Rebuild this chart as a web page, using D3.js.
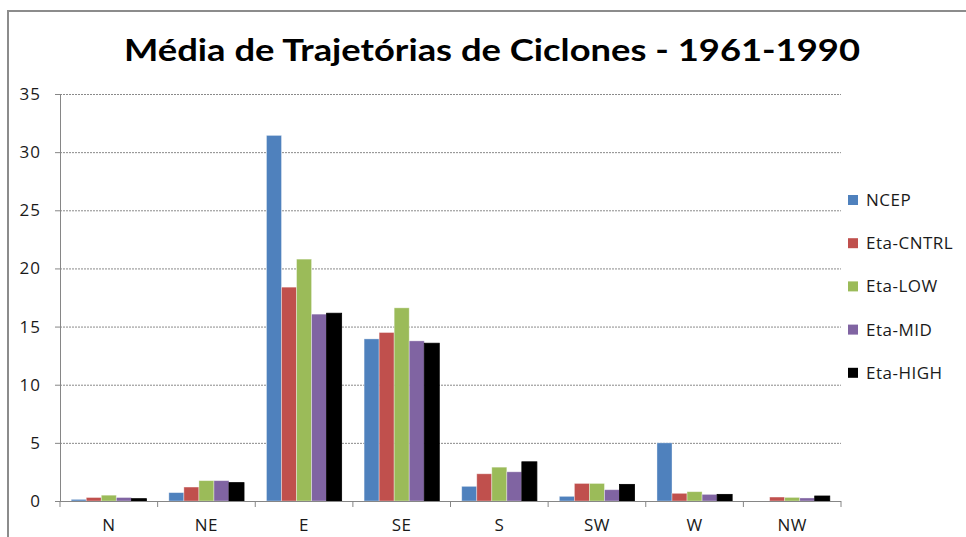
<!DOCTYPE html>
<html>
<head>
<meta charset="utf-8">
<script src="https://cdn.jsdelivr.net/npm/d3@7"></script>
<style>
  body { margin: 0; background: #fff; }
  text { font-family: "Open Sans", "DejaVu Sans", sans-serif; }
</style>
</head>
<body>
<div id="chart"></div>
<script>
// Chart data
const directions = ["N", "NE", "E", "SE", "S", "SW", "W", "NW"];
const seriesNames = ["NCEP", "Eta-CNTRL", "Eta-LOW", "Eta-MID", "Eta-HIGH"];
const ncep     = [0.14, 0.72, 31.44, 13.94, 1.26, 0.40, 5.00, 0.00];
const etaCntrl = [0.30, 1.20, 18.39, 14.49, 2.34, 1.51, 0.66, 0.34];
const etaLow   = [0.50, 1.75, 20.80, 16.61, 2.91, 1.51, 0.80, 0.31];
const etaMid   = [0.30, 1.75, 16.07, 13.77, 2.51, 0.97, 0.57, 0.26];
const etaHigh  = [0.20, 1.58, 16.15, 13.57, 3.37, 1.43, 0.57, 0.43];
const yTicks = [0, 5, 10, 15, 20, 25, 30, 35];
const seriesColors = ["#4F81BD", "#C0504D", "#9BBB59", "#8064A2", "#000000"];

const seriesValues = [ncep, etaCntrl, etaLow, etaMid, etaHigh];
const rows = directions.map((dir, i) => ({
    dir: dir,
    values: seriesNames.map((name, s) => ({ name: name, value: seriesValues[s][i] }))
}));

const W = 966, H = 537;
const margin = { top: 94, right: 125, bottom: 36, left: 60 };
const width = W - margin.left - margin.right;
const height = H - margin.top - margin.bottom;

const svg = d3.select("#chart").append("svg")
    .attr("width", W)
    .attr("height", H);

// outer chart frame (cropped on right and bottom)
svg.append("path")
    .attr("d", `M8,${H + 5} L8,11 L${W + 5},11`)
    .attr("fill", "none")
    .attr("stroke", "#8c8c8c")
    .attr("stroke-width", 2);

// title
svg.append("text")
    .attr("x", 492)
    .attr("y", 61)
    .attr("text-anchor", "middle")
    .attr("font-size", 31)
    .attr("font-weight", "bold")
    .attr("fill", "#000")
    .attr("textLength", 736)
    .attr("lengthAdjust", "spacingAndGlyphs")
    .style("font-family", "Lato, 'Open Sans', sans-serif")
    .text("Média de Trajetórias de Ciclones - 1961-1990");

const g = svg.append("g")
    .attr("transform", `translate(${margin.left},${margin.top})`);

const x0 = d3.scaleBand()
    .domain(directions)
    .range([0, width])
    .padding(0);

const gap = x0.bandwidth() * 0.115;
const x1 = d3.scaleBand()
    .domain(seriesNames)
    .range([gap, x0.bandwidth() - gap])
    .padding(0);

const y = d3.scaleLinear()
    .domain([0, 35])
    .range([height, 0]);

const color = d3.scaleOrdinal()
    .domain(seriesNames)
    .range(seriesColors);

// gridlines
g.append("g")
    .selectAll("line")
    .data(yTicks.filter(t => t > 0))
    .enter()
    .append("line")
    .attr("x1", 0)
    .attr("x2", width)
    .attr("y1", d => y(d) + 0.5)
    .attr("y2", d => y(d) + 0.5)
    .attr("stroke", "#8a8a8a")
    .attr("stroke-width", 1)
    .attr("stroke-dasharray", "2,1");

// bars
g.selectAll(".group")
    .data(rows)
    .enter()
    .append("g")
    .attr("class", "group")
    .attr("transform", d => `translate(${x0(d.dir)},0)`)
    .selectAll("rect")
    .data(d => d.values)
    .enter()
    .append("rect")
    .attr("x", d => x1(d.name))
    .attr("y", d => y(d.value))
    .attr("width", x1.bandwidth())
    .attr("height", d => y(0) - y(d.value))
    .attr("fill", d => color(d.name))
    .attr("stroke", d => d.name === "Eta-HIGH" ? "#000" : "rgba(255,255,255,0.45)")
    .attr("stroke-width", 0.8);

// y axis
const yAxis = g.append("g")
    .call(d3.axisLeft(y).tickValues(yTicks).tickSize(5).tickPadding(14));
yAxis.select(".domain").attr("stroke", "#868686");
yAxis.selectAll(".tick line").attr("stroke", "#868686");
yAxis.selectAll(".tick text")
    .attr("font-size", 17)
    .attr("letter-spacing", 1)
    .attr("fill", "#1a1a1a");

// x axis
const xAxis = g.append("g")
    .attr("transform", `translate(0,${height})`)
    .call(d3.axisBottom(x0).tickSize(0).tickPadding(18));
xAxis.select(".domain").attr("stroke", "#868686").attr("d", `M0,0.5H${width}`);
xAxis.selectAll(".tick text")
    .attr("font-size", 17)
    .attr("letter-spacing", 0.5)
    .attr("fill", "#1a1a1a");

// category separator ticks
xAxis.append("g")
    .selectAll("line")
    .data(directions.concat(["end"]))
    .enter()
    .append("line")
    .attr("x1", (d, i) => i * x0.bandwidth())
    .attr("x2", (d, i) => i * x0.bandwidth())
    .attr("y1", 0)
    .attr("y2", 6)
    .attr("stroke", "#868686");

// legend
const legend = svg.append("g")
    .attr("transform", "translate(848,200)");

const items = legend.selectAll("g")
    .data(seriesNames)
    .enter()
    .append("g")
    .attr("transform", (d, i) => `translate(0,${i * 43.2})`);

items.append("rect")
    .attr("x", 0)
    .attr("y", -5)
    .attr("width", 10)
    .attr("height", 10)
    .attr("fill", d => color(d));

items.append("text")
    .attr("x", 18)
    .attr("y", 0)
    .attr("dy", "0.35em")
    .attr("font-size", 17)
    .attr("letter-spacing", 0.5)
    .attr("fill", "#1a1a1a")
    .text(d => d);
</script>
</body>
</html>
